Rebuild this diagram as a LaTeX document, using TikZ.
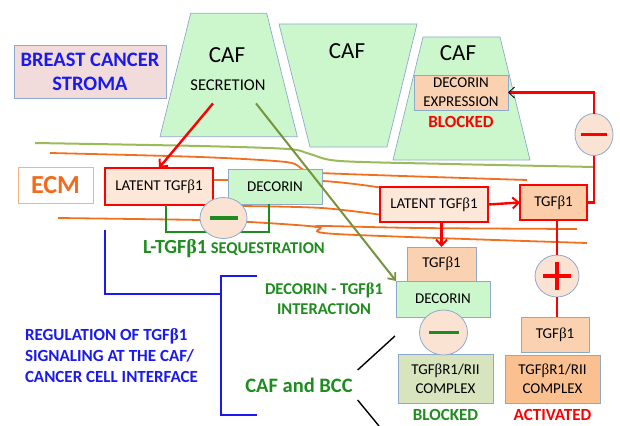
\documentclass[tikz,border=0pt]{standalone}
\usepackage{fontspec}
\setmainfont{Carlito}
\newfontfamily\greekfont{Liberation Serif}
\newcommand{\tbeta}{{\greekfont β}}
\usetikzlibrary{calc,positioning,shapes.geometric,arrows.meta}
\definecolor{cafgreen}{HTML}{CCF7CC}
\definecolor{edgeblue}{HTML}{8EAACB}
\definecolor{stromapink}{HTML}{F2DCDB}
\definecolor{peach}{HTML}{FAD2B2}
\definecolor{latentfill}{HTML}{FDE7D8}
\definecolor{tgffill}{HTML}{FBCDA8}
\definecolor{knobfill}{HTML}{FBE3D3}
\definecolor{cplxgreen}{HTML}{D7E4BD}
\definecolor{cplxorange}{HTML}{FAC090}
\definecolor{darkgreen}{HTML}{1E8C1E}
\definecolor{olive}{HTML}{77933C}
\definecolor{fibergreen}{HTML}{9BBB59}
\definecolor{fiberorange}{HTML}{F07020}
\definecolor{ecmorange}{HTML}{F26B1D}
\definecolor{ecmedge}{HTML}{F8B080}
\definecolor{textblue}{HTML}{1A1AF0}

\begin{document}
\begin{tikzpicture}[x=1pt,y=-1pt,
		every node/.style={inner sep=0pt, outer sep=0pt},
		cafshape/.style={fill=cafgreen, draw=edgeblue, line width=0.7pt},
		caftext/.style={font=\fontsize{23}{26}\selectfont},
		box/.style={draw=edgeblue, line width=0.8pt, align=center, font=\fontsize{15}{19}\selectfont},
		redbox/.style={box, draw=red, line width=2pt},
		knob/.style={ellipse, fill=knobfill, draw=edgeblue, line width=0.8pt},
		greenbold/.style={text=darkgreen, font=\bfseries\fontsize{16.5}{20}\selectfont, align=center},
		redline/.style={draw=red, line width=2.4pt},
		redarrow/.style={redline, -{Straight Barb[length=6pt,width=11pt,line width=2pt]}},
		fiber/.style={draw=fiberorange, line width=1.8pt},
		bluebracket/.style={draw=textblue, line width=1.6pt},
	]
	\useasboundingbox (0,0) rectangle (620,425);
	%
	% fibres of the ECM
	\draw[draw=fibergreen, line width=2pt] plot[smooth, tension=0.5] coordinates {(35,143) (200,146) (288,149) (310,154) (340,161) (450,164) (595,167)};
	\draw[fiber] plot[smooth, tension=0.5] coordinates {(50,153) (200,157) (286,162) (302,169) (320,173) (527,180)};
	\draw[fiber] plot[smooth, tension=0.5] coordinates {(200,180) (322,181) (390,189)};
	\draw[fiber] plot[smooth, tension=0.5] coordinates {(240,206) (322,208) (390,216)};
	\draw[fiber] plot[smooth, tension=0.5] coordinates {(58,218) (200,220) (250,222) (318,227) (336,234) (587,243)};
	\draw[fiber] plot[smooth, tension=0.5] coordinates {(316,227) (324,226) (420,228) (577,229)};
	%
	% the three CAFs
	\draw[cafshape] (190.7,13.3) -- (266.7,13.3) -- (297.3,136.7) -- (160,136.7) -- cycle;
	\draw[cafshape] (279,24) -- (417,24) -- (387,147) -- (310,147) -- cycle;
	\draw[cafshape] (423,37) -- (500,37) -- (530,160) -- (393,160) -- cycle;
	\node[caftext] (caf1) at (227,55) {CAF};
	\node[caftext] (caf2) at (347,51) {CAF};
	\node[caftext] (caf3) at (458,53) {CAF};
	\node[font=\fontsize{16.5}{20}\selectfont] (secr) at (228,85) {SECRETION};
	\node[box, fill=peach, minimum width=94pt, minimum height=35pt] (expr) at (461,92.5) {DECORIN\\EXPRESSION};
	\node[text=red, font=\bfseries\fontsize{17}{20}\selectfont, below=6pt of expr] (blockedtop) {BLOCKED};
	%
	\node[box, fill=stromapink, minimum width=152pt, minimum height=53pt, text=textblue,
		font=\bfseries\fontsize{20.5}{24}\selectfont] (stroma) at (90,71.5) {BREAST CANCER\\STROMA};
	\node[draw=ecmedge, line width=0.8pt, fill=white, minimum width=75pt, minimum height=36pt, text=ecmorange,
		font=\bfseries\fontsize{26}{28}\selectfont] (ecm) at (55.5,185) {ECM};
	%
	% ECM boxes
	\node[redbox, fill=latentfill, minimum width=108pt, minimum height=37pt] (latL) at (159,186.5) {LATENT TGF\tbeta1};
	\node[box, fill=cafgreen, minimum width=94pt, minimum height=35pt] (decU) at (275,186.5) {DECORIN};
	\node[redbox, fill=latentfill, minimum width=108pt, minimum height=35pt] (latR) at (434,204.5) {LATENT TGF\tbeta1};
	\node[redbox, fill=tgffill, minimum width=67pt, minimum height=35pt] (tgfR) at (553.5,202.5) {TGF\tbeta1};
	%
	% blocked side
	\node[box, fill=peach, minimum width=69pt, minimum height=34pt] (tgfM) at (441.5,264) {TGF\tbeta1};
	\node[box, fill=cafgreen, minimum width=94pt, minimum height=36pt] (decM) at (443,299) {DECORIN};
	\node[box, fill=cplxgreen, minimum width=95pt, minimum height=49pt] (cplxL) at (445.5,378.5) {TGF\tbeta R1/RII\\COMPLEX};
	\node[greenbold, font=\bfseries\fontsize{17}{20}\selectfont, below=6pt of cplxL] (blockedL) {BLOCKED};
	%
	% activated side
	\node[box, fill=peach, minimum width=68pt, minimum height=35pt] (tgfR2) at (555,334.5) {TGF\tbeta1};
	\node[box, fill=cplxorange, minimum width=95pt, minimum height=48pt] (cplxR) at (552.5,379) {TGF\tbeta R1/RII\\COMPLEX};
	\node[text=red, font=\bfseries\fontsize{17}{20}\selectfont, below=6pt of cplxR] (activ) {ACTIVATED};
	%
	% labels
	\node[greenbold] (seqtext) at (234,249) {{\fontsize{20}{22}\selectfont L-TGF\tbeta1} SEQUESTRATION};
	\node[greenbold] (dint) at (324,299) {DECORIN - TGF\tbeta1\\INTERACTION};
	\node[greenbold, font=\bfseries\fontsize{20.5}{22}\selectfont] (bcc) at (299,385) {CAF and BCC};
	\node[text=textblue, font=\bfseries\fontsize{17}{21}\selectfont, align=left, anchor=west] (regtext) at (25,356)
		{REGULATION OF TGF\tbeta1\\SIGNALING AT THE CAF/\\CANCER CELL INTERFACE};
	%
	% connectors
	\draw[redarrow] ($(secr.south)+(-15,13)$) -- (latL.north);
	\draw[draw=olive, line width=2pt, -{Straight Barb[length=6pt,width=10pt,line width=1.8pt]}] ($(secr.south)+(28,13)$) -- (decM.north west);
	\draw[redarrow] (latR.east) -- (tgfR.west);
	\draw[redarrow] (tgfM.north |- latR.south) -- (tgfM.north);
	\draw[darkgreen, line width=2.4pt] ($(latL.south)+(7,0)$) -- ++(0,27) -| ($(decU.south)+(-6,0)$);
	%
	\node[knob, minimum width=38pt, minimum height=42pt] (minustop) at (594,134.5) {};
	\node[knob, minimum width=47pt, minimum height=41pt] (minusL) at (223.5,218) {};
	\node[knob, minimum width=48pt, minimum height=45pt] (minusM) at (443.5,332.5) {};
	\node[knob, minimum width=44pt, minimum height=42pt] (plus) at (557,276) {};
	%
	\draw[redline] (tgfR.east) -| (minustop.south);
	\draw[redline, -{Straight Barb[black,length=6pt,width=11pt,line width=0.8pt]}] (minustop.north) |- (expr.east);
	\draw[redline] (tgfR.south -| plus.north) -- (plus.north);
	\draw[redline] (plus.south) -- (plus.south |- tgfR2.north);
	%
	% signs in the knobs
	\draw[red, line width=3.2pt] ($(minustop)+(-13,0)$) -- ($(minustop)+(13,0)$);
	\draw[darkgreen, line width=3.2pt] ($(minusL)+(-14,0)$) -- ($(minusL)+(14,0)$);
	\draw[darkgreen, line width=3.8pt] ($(minusM)+(-15,0)$) -- ($(minusM)+(15,0)$);
	\draw[red, line width=3.5pt] ($(plus)+(-14,0)$) -- ($(plus)+(14,0)$);
	\draw[red, line width=3.5pt] ($(plus)+(0,-14)$) -- ($(plus)+(0,14)$);
	%
	% CAF and BCC
	\coordinate (bccup) at (395,336);
	\coordinate (bccdown) at (379,426);
	\draw[line width=1.4pt] ($(bcc.east)+(5,-15)$) -- (bccup);
	\draw[line width=1.4pt] ($(bcc.east)+(5,15)$) -- (bccdown);
	%
	% regulation bracket
	\coordinate (brtop) at (105,230);
	\coordinate (brjoin) at (221,294);
	\coordinate (brA) at (257,276);
	\coordinate (brB) at (257,415);
	\draw[bluebracket] (brtop) |- (brjoin);
	\draw[bluebracket] (brA) -| (brB -| brjoin) -- (brB);
\end{tikzpicture}
\end{document}
